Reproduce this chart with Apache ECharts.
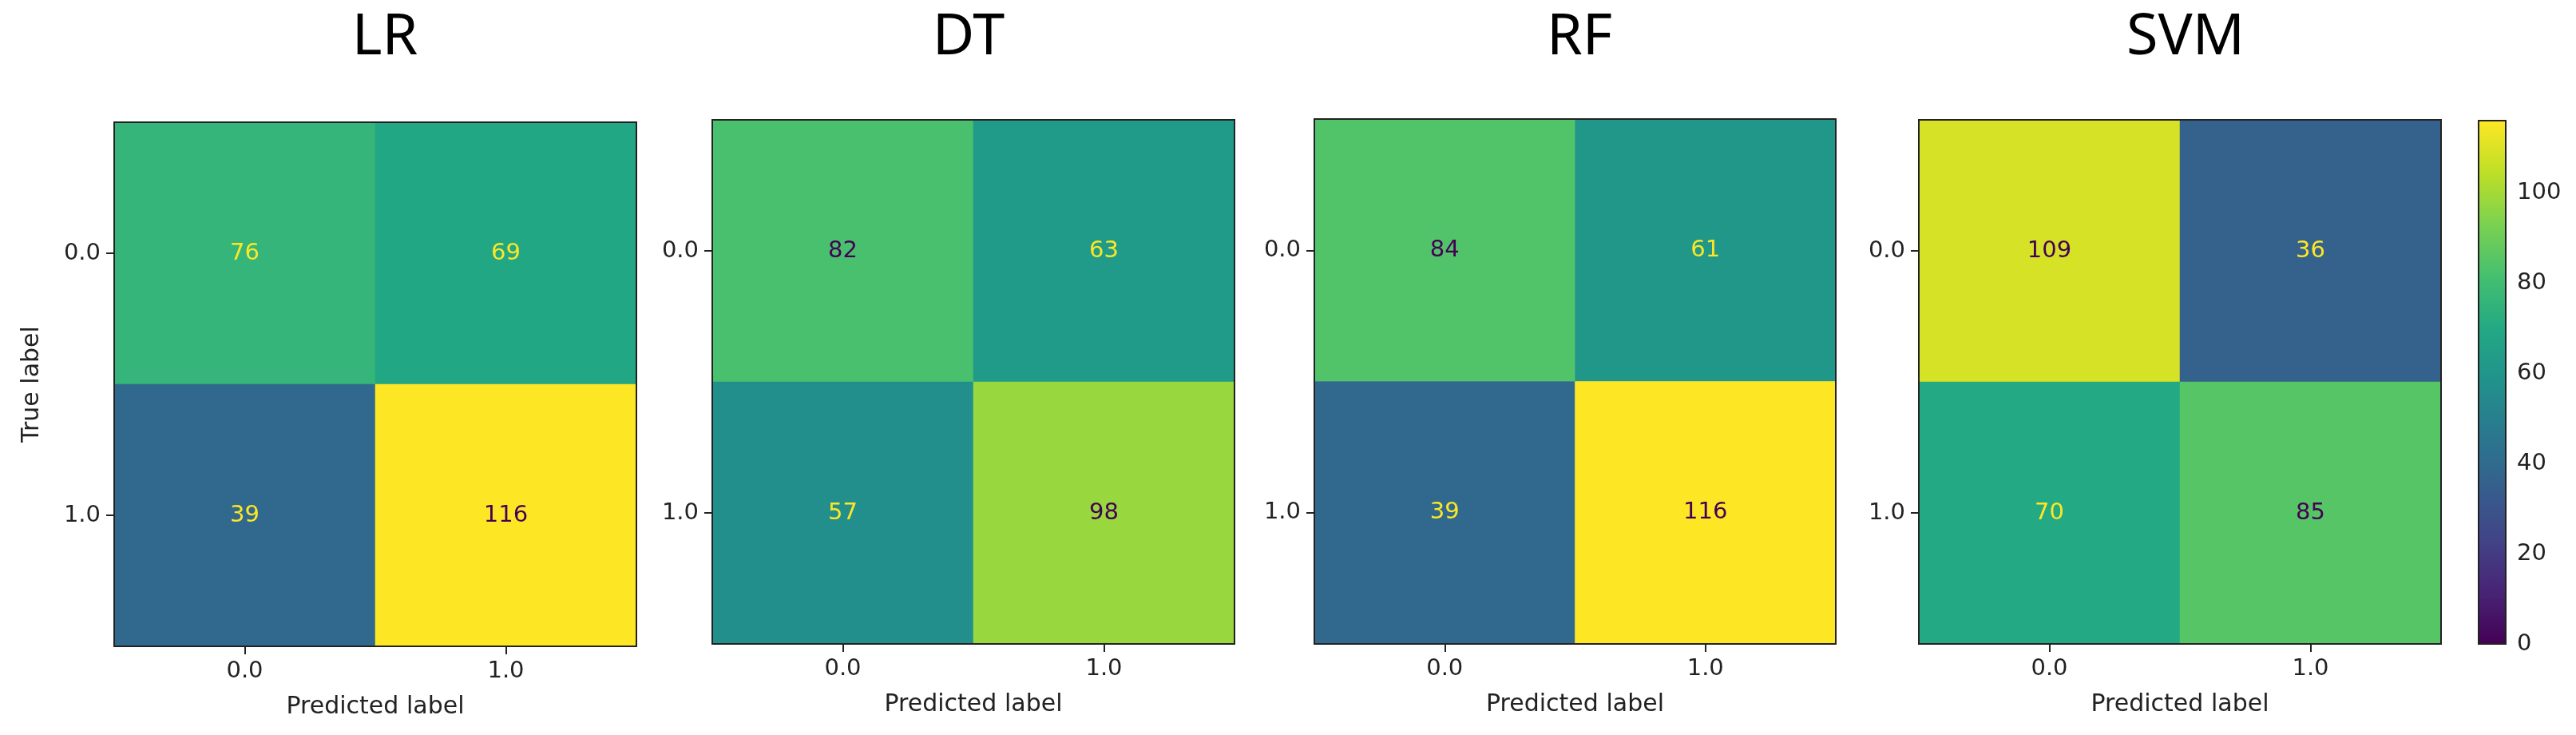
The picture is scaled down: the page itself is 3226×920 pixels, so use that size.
<!DOCTYPE html>
<html>
<head>
<meta charset="utf-8">
<script src="https://cdn.jsdelivr.net/npm/echarts@6/dist/echarts.min.js"></script>
<style>
html,body{margin:0;padding:0;background:#fff;}
#chart{width:3226px;height:920px;}
</style>
</head>
<body>
<div id="chart"></div>
<script>
// ---- data ----
const models = ['LR', 'DT', 'RF', 'SVM'];
const classLabels = ['0.0', '1.0'];
const lrMatrix = [[76, 69], [39, 116]];
const dtMatrix = [[82, 63], [57, 98]];
const rfMatrix = [[84, 61], [39, 116]];
const svmMatrix = [[109, 36], [70, 85]];
const colorMin = 0;
const colorMax = 116;
const colorbarTicks = [0, 20, 40, 60, 80, 100];
const xAxisName = 'Predicted label';
const yAxisName = 'True label';

const matrices = [lrMatrix, dtMatrix, rfMatrix, svmMatrix];

// ---- layout / style ----
const grids = [
  {left: 143, top: 153, width: 654, height: 656},
  {left: 892, top: 150, width: 654, height: 656},
  {left: 1646, top: 149, width: 653, height: 657},
  {left: 2403, top: 150, width: 654, height: 656}
];
const titleX = [477, 1208, 1973, 2732];
const cbar = {left: 3104, top: 151, width: 34, height: 655};
const viridis = ['#440154','#482475','#414487','#355f8d','#2a788e','#21918c','#22a884','#44bf70','#7ad151','#bddf26','#fde725'];
const txt = '#222';
const tickFont = 'DejaVu Sans';

const option = {
  backgroundColor: '#fff',
  animation: false,
  title: models.map((m, i) => ({
    text: m,
    left: titleX[i],
    top: 6,
    textAlign: 'center',
    textStyle: {fontFamily: 'Noto Sans', fontSize: 72, fontWeight: 'normal', color: '#000'}
  })),
  grid: grids.map(g => Object.assign({show: true, borderColor: '#222', borderWidth: 2, backgroundColor: 'transparent', z: 5}, g))
    .concat([Object.assign({show: true, borderColor: '#222', borderWidth: 2, backgroundColor: 'transparent', z: 10}, cbar)]),
  xAxis: models.map((m, i) => ({
    type: 'category', gridIndex: i, data: classLabels,
    name: xAxisName, nameLocation: 'middle', nameGap: 61,
    nameTextStyle: {fontFamily: tickFont, fontSize: 30, color: txt},
    axisLine: {show: false},
    axisTick: {show: true, alignWithLabel: true, length: 10, lineStyle: {color: txt, width: 2}},
    axisLabel: {fontFamily: tickFont, fontSize: 29, color: txt, margin: 17},
    splitLine: {show: false}
  })).concat([{type: 'value', gridIndex: 4, show: false}]),
  yAxis: models.map((m, i) => ({
    type: 'category', gridIndex: i, data: classLabels, inverse: true,
    name: i === 0 ? yAxisName : '', nameLocation: 'middle', nameGap: 88,
    nameTextStyle: {fontFamily: tickFont, fontSize: 30, color: txt},
    axisLine: {show: false},
    axisTick: {show: true, alignWithLabel: true, length: 10, lineStyle: {color: txt, width: 2}},
    axisLabel: {fontFamily: tickFont, fontSize: 29, color: txt, margin: 17},
    splitLine: {show: false}
  })).concat([{
    type: 'value', gridIndex: 4, min: colorMin, max: colorMax, position: 'right',
    axisLine: {show: false},
    axisTick: {show: true, length: 10, customValues: colorbarTicks, lineStyle: {color: txt, width: 2}},
    axisLabel: {fontFamily: tickFont, fontSize: 29, color: txt, margin: 14, customValues: colorbarTicks},
    splitLine: {show: false}
  }]),
  visualMap: {
    type: 'continuous', min: colorMin, max: colorMax, seriesIndex: [0, 1, 2, 3],
    calculable: false, hoverLink: false, orient: 'vertical',
    left: cbar.left, top: cbar.top, itemWidth: cbar.width, itemHeight: cbar.height,
    padding: 0, text: null, showLabel: false,
    inRange: {color: viridis}
  },
  series: matrices.map((mat, i) => {
    const flat = mat.flat();
    const thresh = (Math.min(...flat) + Math.max(...flat)) / 2;
    const data = [];
    mat.forEach((row, r) => row.forEach((v, c) => {
      data.push({value: [c, r, v], label: {color: v < thresh ? '#fde725' : '#440154'}});
    }));
    return {
      type: 'heatmap', xAxisIndex: i, yAxisIndex: i, data: data,
      label: {show: true, fontFamily: tickFont, fontSize: 29, formatter: p => String(p.value[2])},
      itemStyle: {borderWidth: 0},
      emphasis: {disabled: true}
    };
  })
};

const chart = echarts.init(document.getElementById('chart'));
chart.setOption(option);
</script>
</body>
</html>
